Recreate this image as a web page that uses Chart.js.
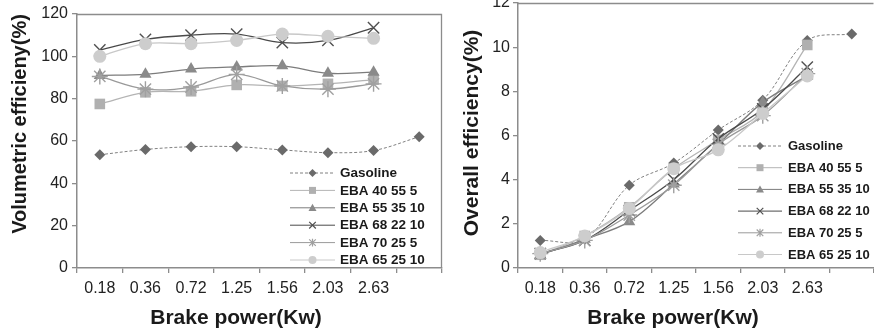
<!DOCTYPE html>
<html>
<head>
<meta charset="utf-8">
<script src="https://cdn.jsdelivr.net/npm/chart.js@4/dist/chart.umd.min.js"></script>
<style>
html,body{margin:0;padding:0;background:#fff;}
#wrap{position:relative;width:874px;height:334px;overflow:hidden;}
#c1{position:absolute;left:0;top:0;}
#c2{position:absolute;left:443px;top:0;}
</style>
</head>
<body>
<div id="wrap">
<canvas id="c1" width="443" height="334"></canvas>
<canvas id="c2" width="431" height="334"></canvas>
</div>
<script>
// ---- data ----
const categories = ['0.18', '0.36', '0.72', '1.25', '1.56', '2.03', '2.63', ''];
const seriesNames = ['Gasoline', 'EBA 40 55 5', 'EBA 55 35 10', 'EBA 68 22 10', 'EBA 70 25 5', 'EBA 65 25 10'];

// Volumetric efficiency (%)
const volGasoline = [53.5, 56, 57.3, 57.3, 55.8, 54.5, 55.5, 62];
const volEBA40555 = [77.5, 83, 83.5, 86.5, 86, 87, 89, null];
const volEBA553510 = [91, 91.5, 94, 95, 95.5, 92, 92.5, null];
const volEBA682210 = [103, 108, 110, 110.5, 106.5, 107.5, 113.5, null];
const volEBA70255 = [90.5, 84.5, 85.5, 91.5, 86, 84.5, 87, null];
const volEBA652510 = [100, 106, 106, 107.5, 110.5, 109.5, 108.5, null];

// Overall efficiency (%)
const ovGasoline = [1.25, 1.3, 3.75, 4.75, 6.25, 7.6, 10.3, 10.6];
const ovEBA40555 = [0.6, 1.45, 2.75, 4.5, 5.8, 7.1, 10.1, null];
const ovEBA553510 = [0.6, 1.3, 2.1, 3.8, 5.6, 7.5, 8.7, null];
const ovEBA682210 = [0.65, 1.25, 2.6, 4.0, 5.85, 7.2, 9.1, null];
const ovEBA70255 = [0.65, 1.25, 2.4, 3.75, 5.6, 6.9, 8.8, null];
const ovEBA652510 = [0.7, 1.45, 2.7, 4.5, 5.35, 7.0, 8.7, null];

const volTicks = [0, 20, 40, 60, 80, 100, 120];
const ovTicks = [0, 2, 4, 6, 8, 10, 12];

// ---- styles ----
const styles = [
  {pointStyle: 'rectRot', radius: 5.5, fill: '#6a6a6a', stroke: '#6a6a6a', line: '#808080', dash: [3, 2], lw: 1},
  {pointStyle: 'rect', radius: 7.5, fill: '#b0b0b0', stroke: '#b0b0b0', line: '#b4b4b4', dash: [], lw: 1.3},
  {pointStyle: 'triangle', radius: 7, fill: '#8a8a8a', stroke: '#8a8a8a', line: '#7c7c7c', dash: [], lw: 1.3},
  {pointStyle: 'crossRot', radius: 8, fill: '#505050', stroke: '#505050', line: '#4a4a4a', dash: [], lw: 1.3},
  {pointStyle: 'star', radius: 8, fill: '#a0a0a0', stroke: '#a0a0a0', line: '#9a9a9a', dash: [], lw: 1.3},
  {pointStyle: 'circle', radius: 6.5, fill: '#cdcdcd', stroke: '#cdcdcd', line: '#c8c8c8', dash: [], lw: 1.3}
];

function makeDatasets(arrs) {
  return arrs.map((d, i) => {
    const s = styles[i];
    return {
      label: seriesNames[i],
      data: d,
      borderColor: s.line,
      borderWidth: s.lw,
      borderDash: s.dash,
      backgroundColor: s.fill,
      pointStyle: s.pointStyle,
      pointRadius: s.radius,
      pointHoverRadius: s.radius,
      pointBackgroundColor: s.fill,
      pointBorderColor: s.stroke,
      pointBorderWidth: (s.pointStyle === 'crossRot' || s.pointStyle === 'star') ? 1.4 : 0,
      tension: 0.35,
      fill: false,
      clip: false,
      order: arrs.length - i
    };
  });
}

function drawMarker(ctx, style, r, x, y, fill, stroke) {
  ctx.save();
  ctx.fillStyle = fill; ctx.strokeStyle = stroke; ctx.lineWidth = 1.2;
  ctx.setLineDash([]);
  ctx.beginPath();
  if (style === 'rectRot') {
    ctx.moveTo(x, y - r); ctx.lineTo(x + r, y); ctx.lineTo(x, y + r); ctx.lineTo(x - r, y); ctx.closePath(); ctx.fill();
  } else if (style === 'rect') {
    ctx.rect(x - r, y - r, 2 * r, 2 * r); ctx.fill();
  } else if (style === 'triangle') {
    ctx.moveTo(x, y - r); ctx.lineTo(x + r, y + r * 0.8); ctx.lineTo(x - r, y + r * 0.8); ctx.closePath(); ctx.fill();
  } else if (style === 'crossRot') {
    ctx.moveTo(x - r, y - r); ctx.lineTo(x + r, y + r); ctx.moveTo(x + r, y - r); ctx.lineTo(x - r, y + r); ctx.stroke();
  } else if (style === 'star') {
    ctx.moveTo(x - r, y - r); ctx.lineTo(x + r, y + r); ctx.moveTo(x + r, y - r); ctx.lineTo(x - r, y + r);
    ctx.moveTo(x, y - r * 1.2); ctx.lineTo(x, y + r * 1.2); ctx.stroke();
  } else {
    ctx.arc(x, y, r, 0, Math.PI * 2); ctx.fill();
  }
  ctx.restore();
}

const customPlugin = {
  id: 'custom',
  beforeDatasetsDraw(chart, args, opts) {
    const ca = chart.chartArea, ctx = chart.ctx;
    ctx.save();
    ctx.strokeStyle = '#8c8c8c';
    ctx.lineWidth = 1.3;
    ctx.beginPath();
    ctx.moveTo(ca.left, ca.top + 0.5);
    ctx.lineTo(ca.right - 0.5, ca.top + 0.5);
    if (opts.rightBorder) ctx.lineTo(ca.right - 0.5, ca.bottom);
    ctx.stroke();
    ctx.restore();
  },
  afterDatasetsDraw(chart, args, opts) {
    const ctx = chart.ctx;
    ctx.save();
    // legend
    const L = opts.legend;
    seriesNames.forEach((name, i) => {
      const s = styles[i];
      const y = L.y0 + i * L.dy;
      ctx.save();
      ctx.strokeStyle = s.line;
      ctx.lineWidth = 1;
      ctx.setLineDash(s.dash);
      ctx.beginPath();
      ctx.moveTo(L.x0, y); ctx.lineTo(L.x1, y); ctx.stroke();
      ctx.restore();
      const mx = (L.x0 + L.x1) / 2;
      const mr = s.pointStyle === 'rect' ? 3.5 : (s.pointStyle === 'circle' ? 4 : (s.pointStyle === 'crossRot' || s.pointStyle === 'star' ? 3.3 : 4));
      drawMarker(ctx, s.pointStyle, mr, mx, y, s.fill, s.stroke);
      ctx.fillStyle = '#1a1a1a';
      ctx.font = 'bold ' + L.size + 'px "Liberation Sans", Arial, sans-serif';
      ctx.textAlign = 'left';
      ctx.textBaseline = 'middle';
      ctx.fillText(name, L.tx, y + 0.5);
    });
    // axis titles
    ctx.fillStyle = '#1a1a1a';
    ctx.textAlign = 'center';
    ctx.textBaseline = 'middle';
    ctx.font = 'bold ' + opts.xTitle.size + 'px "Liberation Sans", Arial, sans-serif';
    ctx.fillText(opts.xTitle.text, opts.xTitle.x, opts.xTitle.y);
    ctx.translate(opts.yTitle.x, opts.yTitle.y);
    ctx.rotate(-Math.PI / 2);
    ctx.font = 'bold ' + opts.yTitle.size + 'px "Liberation Sans", Arial, sans-serif';
    ctx.fillText(opts.yTitle.text, 0, 0);
    ctx.restore();
  }
};

function makeChart(id, arrs, ticks, cfg) {
  return new Chart(document.getElementById(id), {
    type: 'line',
    data: {labels: categories, datasets: makeDatasets(arrs)},
    plugins: [customPlugin],
    options: {
      responsive: false,
      animation: false,
      devicePixelRatio: 1,
      layout: {padding: cfg.padding, autoPadding: false},
      plugins: {
        legend: {display: false},
        tooltip: {enabled: false},
        custom: cfg.custom
      },
      scales: {
        x: {
          type: 'category',
          offset: true,
          grid: {offset: true, drawOnChartArea: false, drawTicks: true, tickLength: 5, color: '#8c8c8c', lineWidth: 1.3},
          border: {color: '#8c8c8c', width: 1.5},
          ticks: {font: {size: 16, family: '"Liberation Sans", Arial, sans-serif'}, color: '#222', padding: 6, maxRotation: 0, autoSkip: false},
          afterFit: s => { s.height = 66; s.paddingLeft = 0; s.paddingRight = 0; }
        },
        y: {
          min: ticks[0],
          max: ticks[ticks.length - 1],
          afterBuildTicks: s => { s.ticks = ticks.map(v => ({value: v})); },
          grid: {drawOnChartArea: false, drawTicks: true, tickLength: 5, color: '#8c8c8c', lineWidth: 1.3},
          border: {color: '#8c8c8c', width: 1.5},
          ticks: {font: {size: 16, family: '"Liberation Sans", Arial, sans-serif'}, color: '#222', padding: cfg.yPad},
          afterFit: s => { s.width = cfg.yWidth; s.paddingTop = 0; s.paddingBottom = 0; }
        }
      }
    }
  });
}

makeChart('c1', [volGasoline, volEBA40555, volEBA553510, volEBA682210, volEBA70255, volEBA652510], volTicks, {
  padding: {top: 14, right: 1, left: 0, bottom: 0},
  yWidth: 77, yPad: 4,
  custom: {
    rightBorder: true,
    legend: {x0: 290, x1: 335, tx: 340, y0: 173, dy: 17.4, size: 13.5},
    xTitle: {text: 'Brake power(Kw)', x: 236, y: 318, size: 21},
    yTitle: {text: 'Volumetric efficieny(%)', x: 20, y: 124, size: 20}
  }
});

makeChart('c2', [ovGasoline, ovEBA40555, ovEBA553510, ovEBA682210, ovEBA70255, ovEBA652510], ovTicks, {
  padding: {top: 3, right: 0, left: 0, bottom: 0},
  yWidth: 75, yPad: 3,
  custom: {
    rightBorder: false,
    legend: {x0: 295, x1: 339, tx: 345, y0: 146, dy: 21.7, size: 13},
    xTitle: {text: 'Brake power(Kw)', x: 230, y: 318, size: 21},
    yTitle: {text: 'Overall efficiency(%)', x: 29, y: 133, size: 21}
  }
});
</script>
</body>
</html>
